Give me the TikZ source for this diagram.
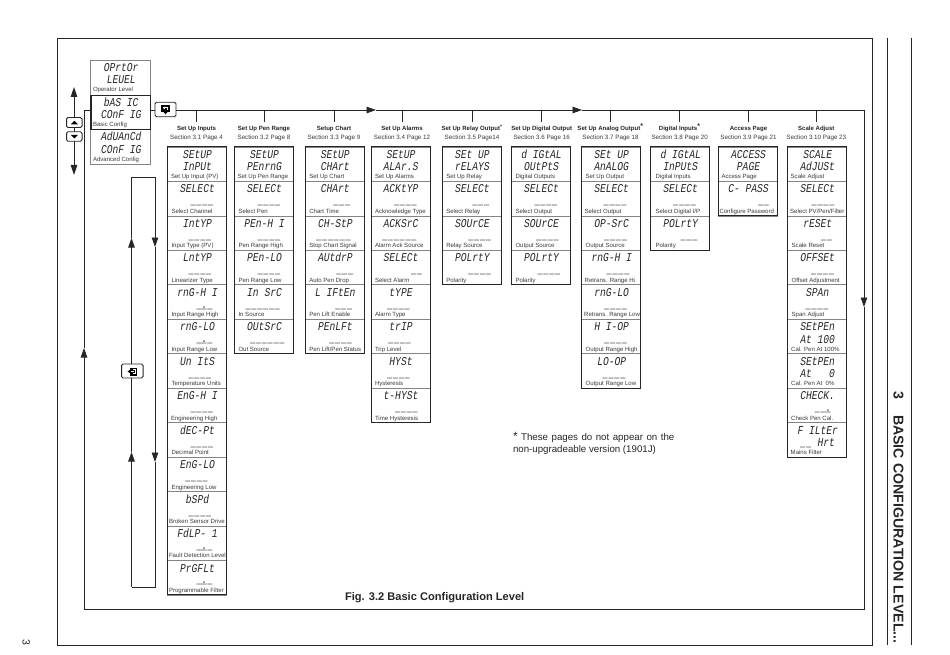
\documentclass[tikz,border=0pt]{standalone}
\usepackage{fontspec}
\usetikzlibrary{arrows.meta}
\setmainfont{Liberation Sans}
\newfontfamily\segfont[FakeStretch=0.8,FakeSlant=0.16]{Liberation Mono}
\newfontfamily\dashfont[FakeStretch=0.7,LetterSpace=7]{Liberation Mono}
\definecolor{ink}{HTML}{262626}
\definecolor{lab}{HTML}{3A3A3A}
\definecolor{divd}{HTML}{858585}
\tikzset{
  txt/.style={inner sep=0pt,outer sep=0pt},
  seg/.style={txt,anchor=base,font=\segfont\fontsize{12}{12}\selectfont,text=ink},
  dashmark/.style={txt,anchor=base west,font=\dashfont\fontsize{12}{12}\selectfont,text=ink},
  lbl/.style={txt,anchor=base west,font=\fontsize{6.05}{7}\selectfont,text=lab},
  ttl/.style={txt,anchor=base,font=\bfseries\fontsize{6.05}{7}\selectfont,text=ink},
  sect/.style={txt,anchor=base,font=\fontsize{6.25}{7}\selectfont,text=lab},
  cellbox/.style={draw=divd,line width=0.7pt,minimum width=59pt,minimum height=34.46pt,inner sep=0pt,outer sep=0pt},
  outline/.style={draw=ink,line width=1pt},
  rule/.style={draw=ink,line width=0.9pt},
  flow/.style={rule,-{Triangle[length=9.5pt,width=6.5pt]}},
  btn/.style={draw=ink,line width=0.9pt,fill=white,rounded corners=1.5pt,inner sep=0pt,outer sep=0pt},
  menubox/.style={minimum width=59.5pt,minimum height=34.3pt,inner sep=0pt,outer sep=0pt},
}
\newcounter{cellc}
\newcommand\startcol[2]{\def\colx{#1}\def\coln{#2}\setcounter{cellc}{0}}
% line 1, line 2, dash, dash offset, label, label offset
\newcommand\cell[6]{%
  \pgfmathsetmacro\yt{147+34.46*\thecellc}%
  \node[cellbox] (c\coln-\thecellc) at ({\colx+29.5},{\yt+17.23}) {};
  \node[seg] (a\coln-\thecellc) at ({\colx+29.5},{\yt+11.5}) {#1};
  \if\relax\detokenize{#2}\relax\else
    \node[seg] (b\coln-\thecellc) at ({\colx+29.5},{\yt+23.7}) {#2};
  \fi
  \if\relax\detokenize{#3}\relax\else
    \node[dashmark] (d\coln-\thecellc) at ({\colx+#4},{\yt+23.4}) {#3};
  \fi
  \node[lbl] (l\coln-\thecellc) at ({\colx+#6},{\yt+31.9}) {#5};
  \edef\lastn{\thecellc}\stepcounter{cellc}%
}
\newcommand\closecol{\draw[outline] (c\coln-0.north west) rectangle (c\coln-\lastn.south east);}
% column title: centre x, title, section
\newcommand\heading[3]{%
  \coordinate (bus\coln) at (#1,110);
  \node[ttl] (t\coln) at (#1,131) {#2};
  \node[sect] (s\coln) at (#1,139.4) {#3};
  \coordinate (tk\coln) at (#1,122.5);
  \draw[rule] (bus\coln) -- (tk\coln);
}
\newcommand\dTwo{\_\_}
\newcommand\dThree{\_\_\_}
\newcommand\dFour{\_\_\_\_}
\newcommand\dSix{\_\_\_\_\_\_}
\newcommand\dDot{\_\rlap{.}\_\_}
\newcommand\dChk{\_\_\rlap{.}\_}
\begin{document}
\begin{tikzpicture}[x=1pt,y=-1pt]
\useasboundingbox (0,0) rectangle (950,655);
\fill[white] (0,0) rectangle (950,655);

% page frame
\coordinate (fa) at (57,38); \coordinate (fb) at (872,645);
\draw[rule] (fa) rectangle (fb);
\coordinate (va) at (887,38); \coordinate (vb) at (887,645);
\coordinate (vc) at (911,38); \coordinate (vd) at (911,645);
\draw[rule] (va) -- (vb);
\draw[rule] (vc) -- (vd);
\node[txt,rotate=-90,anchor=base,font=\bfseries\fontsize{14.2}{16}\selectfont,text=ink] (chapno) at (893.5,395.5) {3};
\node[txt,rotate=-90,anchor=base west,font=\bfseries\fontsize{14.2}{16}\selectfont,text=ink] (chapt) at (893.5,415) {BASIC CONFIGURATION LEVEL...};
\node[txt,rotate=-90,anchor=base,font=\fontsize{10.5}{11}\selectfont,text=ink] (pageno) at (22.5,642.5) {3};

% main bus
\coordinate (busL) at (84,110); \coordinate (cornBL) at (84,609);
\coordinate (cornBR) at (864,609); \coordinate (busR) at (864,110);
\coordinate (arrUp) at (84,348); \coordinate (arrDn) at (864,307);
\coordinate (arrA) at (376,110); \coordinate (arrB) at (582,110);

% menu boxes
\node[menubox,draw=divd,line width=1pt] (menuOp) at (120.7,78) {};
\node[menubox,draw=divd,line width=1pt] (menuAdv) at (120.7,147) {};
\node[menubox,draw=ink,line width=1.2pt] (menuBasic) at (120.7,112.6) {};
\node[seg] (m1a) at (120.7,71.7) {OPrtOr};
\node[seg] (m1b) at (120.7,84) {LEUEL};
\node[lbl] (m1l) at (93,91.7) {Operator Level};
\node[seg] (m2a) at (120.7,106.6) {bAS IC};
\node[seg] (m2b) at (120.7,119) {COnF IG};
\node[lbl] (m2l) at (93,127) {Basic Config};
\node[seg] (m3a) at (120.7,141) {AdUAnCd};
\node[seg] (m3b) at (120.7,153.5) {COnF IG};
\node[lbl] (m3l) at (93,162) {Advanced Config};

% scroll button and bus lines
\node[btn,minimum width=21pt,minimum height=14.5pt] (btnScroll) at (165.5,109.5) {};
\draw[rule] (menuBasic.east |- busL) -- (btnScroll.west |- busL);
\draw[flow] (btnScroll.east |- busL) -- (arrA);
\draw[flow] (arrA) -- (arrB);
\draw[rule] (arrB) -- (busR);
\draw[flow] (busR) -- (arrDn);
\draw[rule] (arrDn) -- (cornBR) -- (cornBL);
\draw[flow] (cornBL) -- (arrUp);
\draw[rule] (arrUp) -- (busL) -- (menuBasic.west |- busL);
\fill[black] (161,105.5) rectangle (170,112);
\fill[black] (163.5,112) -- (167.5,112) -- (165.5,114.3) -- cycle;
\fill[white] (163,107.2) rectangle (168,108.2);
\fill[white] (167,108) rectangle (168,110.5);
\fill[white] (163,108) -- (165,106.5) -- (165,109.5) -- cycle;

% up and down
\coordinate (updown) at (74,131);
\coordinate (upTip) at (74,87); \coordinate (dnTip) at (74,175);
\draw[rule,-{Triangle[length=10pt,width=6.5pt]}] (updown) -- (upTip);
\draw[rule,-{Triangle[length=10pt,width=6.5pt]}] (updown) -- (dnTip);
\node[btn,minimum width=15.5pt,minimum height=10pt] (btnUp) at (74.3,122.5) {};
\node[btn,minimum width=15.5pt,minimum height=9.5pt] (btnDn) at (74.3,136.5) {};
\fill[black] (70.8,124.3) -- (77.8,124.3) -- (74.3,120.8) -- cycle;
\fill[black] (70.8,135) -- (77.8,135) -- (74.3,138.5) -- cycle;

% loop with enter button
\coordinate (loopTL) at (131.5,177); \coordinate (loopTR) at (155,177);
\coordinate (loopBL) at (131.5,587); \coordinate (loopBR) at (155,587);
\coordinate (lu1) at (131.5,452); \coordinate (lu2) at (131.5,238);
\coordinate (ld1) at (155,247); \coordinate (ld2) at (155,462);
\draw[flow] (loopBL) -- (lu1);
\draw[flow] (lu1) -- (lu2);
\draw[rule] (lu2) -- (loopTL) -- (loopTR);
\draw[flow] (loopTR) -- (ld1);
\draw[flow] (ld1) -- (ld2);
\draw[rule] (ld2) -- (loopBR) -- (loopBL);
\node[btn,minimum width=21.5pt,minimum height=14pt] (btnEnter) at (132.3,371) {};
\fill[black] (130,367.5) rectangle (137,375.5);
\fill[white] (132.5,369) rectangle (135.5,374);
\fill[black] (133,369.8) rectangle (135,373.2);
\fill[black] (127.5,371.5) -- (131,369.3) -- (131,373.7) -- cycle;
\fill[white] (131,371) rectangle (133.5,372);

% column 1
\startcol{167.5}{1}
\heading{196.5}{Set Up Inputs}{Section 3.1 Page 4}
\cell{SEtUP}{InPUt}{}{0}{Set Up Input (PV)}{3.5}
\cell{SELECt}{}{\dFour}{23}{Select Channel}{4}
\cell{IntYP}{}{\dFour}{21}{Input Type (PV)}{4}
\cell{LntYP}{}{\dFour}{21}{Linearizer Type}{4}
\cell{rnG-H I}{}{\dDot}{29}{Input Range High}{4}
\cell{rnG-LO}{}{\dDot}{29}{Input Range Low}{4}
\cell{Un ItS}{}{\dFour}{21}{Temperature Units}{4}
\cell{EnG-H I}{}{\dFour}{23}{Engineering High}{3.5}
\cell{dEC-Pt}{}{\dFour}{23}{Decimal Point}{4}
\cell{EnG-LO}{}{\dFour}{17.5}{Engineering Low}{4}
\cell{bSPd}{}{\dFour}{21}{Broken Sensor Drive}{1.5}
\cell{FdLP- 1}{}{\dDot}{29}{Fault Detection Level}{1.5}
\cell{PrGFLt}{}{\dDot}{29}{Programmable Filter}{1.5}
\closecol

% column 2
\startcol{234.5}{2}
\heading{264}{Set Up Pen Range}{Section 3.2 Page 8}
\cell{SEtUP}{PEnrnG}{}{0}{Set Up Pen Range}{3.2}
\cell{SELECt}{}{\dFour}{23}{Select Pen}{4}
\cell{PEn-H I}{}{\dFour}{23}{Pen Range High}{4}
\cell{PEn-LO}{}{\dFour}{23}{Pen Range Low}{4}
\cell{In SrC}{}{\dSix}{11}{In Source}{4}
\cell{OUtSrC}{}{\dSix}{15.5}{Out Source}{4}
\closecol

% column 3
\startcol{305.3}{3}
\heading{334}{Setup Chart}{Section 3.3 Page 9}
\cell{SEtUP}{CHArt}{}{0}{Set Up Chart}{4}
\cell{CHArt}{}{\dThree}{28}{Chart Time}{4}
\cell{CH-StP}{}{\dSix}{11}{Stop Chart Signal}{4}
\cell{AUtdrP}{}{\dThree}{31}{Auto Pen Drop}{4}
\cell{L IFtEn}{}{\dThree}{30}{Pen Lift Enable}{4}
\cell{PEnLFt}{}{\dFour}{24}{Pen Lift/Pen Status}{4}
\closecol

% column 4
\startcol{371}{4}
\heading{402}{Set Up Alarms}{Section 3.4 Page 12}
\cell{SEtUP}{ALAr.S}{}{0}{Set Up Alarms}{4}
\cell{ACKtYP}{}{\dFour}{23}{Acknowledge Type}{4}
\cell{ACKSrC}{}{\dSix}{11}{Alarm Ack Source}{4}
\cell{SELECt}{}{\dTwo}{40}{Select Alarm}{4}
\cell{tYPE}{}{\dFour}{16}{Alarm Type}{4}
\cell{trIP}{}{\dFour}{17}{Trip Level}{4}
\cell{HYSt}{}{\dFour}{16}{Hysteresis}{4}
\cell{t-HYSt}{}{\dFour}{24}{Time Hysteresis}{4}
\closecol

% column 5
\startcol{442.3}{5}
\heading{472}{Set Up Relay Output\textsuperscript{\fontsize{5}{5}\selectfont *}}{Section 3.5 Page14}
\cell{SEt UP}{rELAYS}{}{0}{Set Up Relay}{4}
\cell{SELECt}{}{\dThree}{30}{Select Relay}{4}
\cell{SOUrCE}{}{\dFour}{26}{Relay Source}{4}
\cell{POLrtY}{}{\dFour}{26}{Polarity}{4}
\closecol

% column 6
\startcol{511.5}{6}
\heading{541.7}{Set Up Digital Output}{Section 3.6 Page 16}
\cell{d IGtAL}{OUtPtS}{}{0}{Digital Outputs}{4}
\cell{SELECt}{}{\dFour}{23}{Select Output}{4}
\cell{SOUrCE}{}{\dFour}{24.5}{Output Source}{4}
\cell{POLrtY}{}{\dFour}{26}{Polarity}{4}
\closecol

% column 7
\startcol{581.7}{7}
\heading{610.5}{Set Up Analog Output\textsuperscript{\fontsize{7}{7}\selectfont *}}{Section 3.7 Page 18}
\cell{SEt UP}{AnALOG}{}{0}{Set Up Output}{4}
\cell{SELECt}{}{\dFour}{22}{Select Output}{3}
\cell{OP-SrC}{}{\dFour}{22.5}{Output Source}{4}
\cell{rnG-H I}{}{\dFour}{25}{Retrans. Range Hi}{3}
\cell{rnG-LO}{}{\dFour}{22.5}{Retrans. Range Low}{2.5}
\cell{H I-OP}{}{\dFour}{22.5}{Output Range High}{4}
\cell{LO-OP}{}{\dFour}{21}{Output Range Low}{4}
\closecol

% column 8
\startcol{650.7}{8}
\heading{679.7}{Digital Inputs\textsuperscript{\fontsize{7}{7}\selectfont *}}{Section 3.8 Page 20}
\cell{d IGtAL}{InPUtS}{}{0}{Digital Inputs}{5}
\cell{SELECt}{}{\dFour}{22.5}{Select Digital I/P}{5}
\cell{POLrtY}{}{\dThree}{30}{Polarity}{5}
\closecol

% column 9
\startcol{718.5}{9}
\heading{748.5}{Access Page}{Section 3.9 Page 21}
\cell{ACCESS}{PAGE}{}{0}{Access Page}{3}
\cell{C- PASS}{}{\dTwo}{39.5}{Configure Password}{1}
\closecol

% column 10
\startcol{787.7}{10}
\heading{816.3}{Scale Adjust}{Section 3.10 Page 23}
\cell{SCALE}{AdJUSt}{}{0}{Scale Adjust}{3}
\cell{SELECt}{}{\dFour}{24}{Select PV/Pen/Filter}{2.5}
\cell{rESEt}{}{\dTwo}{33.5}{Scale Reset}{4}
\cell{OFFSEt}{}{\dFour}{23.5}{Offset Adjustment}{4}
\cell{SPAn}{}{\dFour}{18}{Span Adjust}{4}
\cell{SEtPEn}{At 100}{}{0}{Cal. Pen At 100\%}{3.5}
\cell{SEtPEn}{At~~~0}{}{0}{Cal. Pen At~~0\%}{3.5}
\cell{CHECK.}{}{\dChk}{27}{Check Pen Cal.}{3.5}
\cell{F ILtEr}{~~~Hrt}{\dTwo}{12.5}{Mains Filter}{3}
\closecol

% captions
\node[txt,anchor=base west,font=\bfseries\fontsize{11.1}{13}\selectfont,text=ink] (figcap) at (345,600) {Fig. 3.2 Basic Configuration Level};
\node[txt,anchor=base west,font=\fontsize{9.7}{11}\selectfont,text=ink] (note1) at (513,440) {\spaceskip=3.5pt\relax{\fontsize{12}{11}\selectfont *} These pages do not appear on the};
\node[txt,anchor=base west,font=\fontsize{9.7}{11}\selectfont,text=ink] (note2) at (513,452.4) {non-upgradeable version (1901J)};
\end{tikzpicture}
\end{document}
